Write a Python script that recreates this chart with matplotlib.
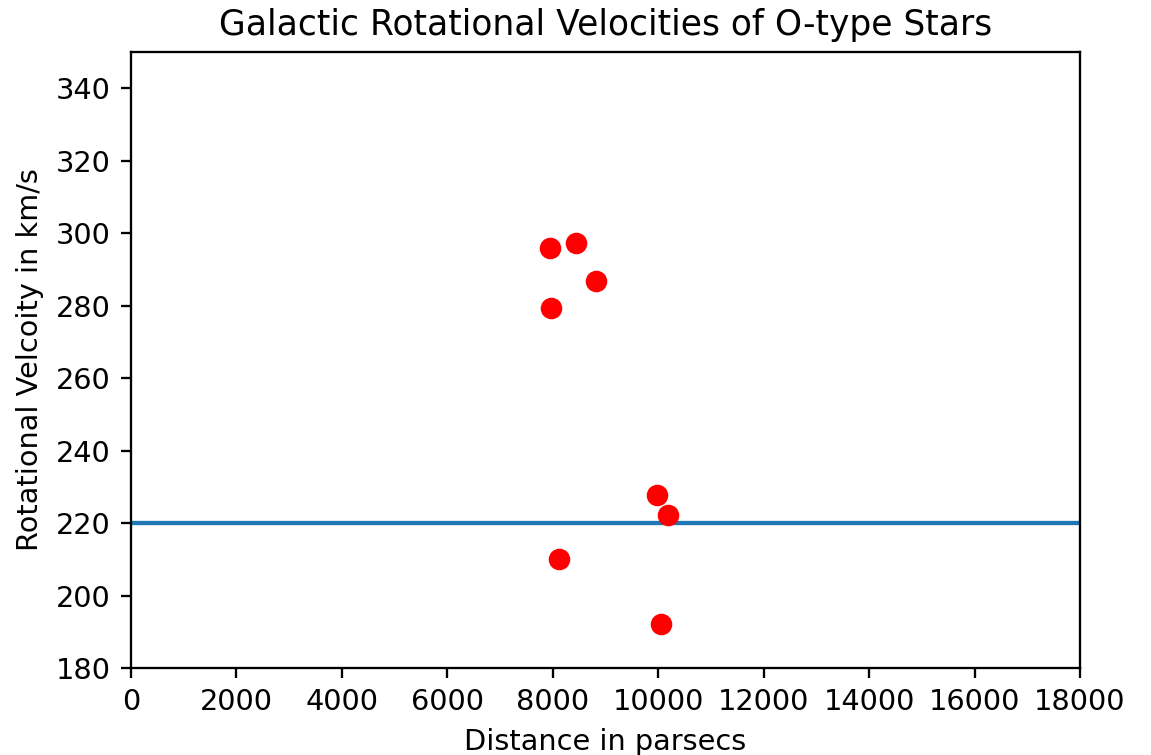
import matplotlib
matplotlib.use("Agg")
import matplotlib.pyplot as plt

# distances (pc) and rotational velocities (km/s) of the O-type stars
distances = [7948, 8441, 8820, 7967, 9977, 10186, 8118, 10053]
velocities = [295.9, 297.2, 286.8, 279.3, 227.7, 222.2, 210.1, 192.1]
solar_velocity = 220

DPI = 207
fig = plt.figure(figsize=(1151 / DPI, 755 / DPI), dpi=DPI)
ax = fig.add_axes([131 / 1151, 1 - 668 / 755, 949 / 1151, 616 / 755])

ax.axhline(solar_velocity, linewidth=1.5)
ax.plot(distances, velocities, 'ro', markersize=6.5)

ax.set_xlim(0, 18000)
ax.set_ylim(180, 350)
ax.set_xticks(range(0, 18001, 2000))
ax.set_yticks(range(180, 341, 20))
ax.set_title("Galactic Rotational Velocities of O-type Stars")
ax.set_xlabel("Distance in parsecs")
ax.set_ylabel("Rotational Velcoity in km/s")

fig.savefig("out.png", dpi=DPI)
